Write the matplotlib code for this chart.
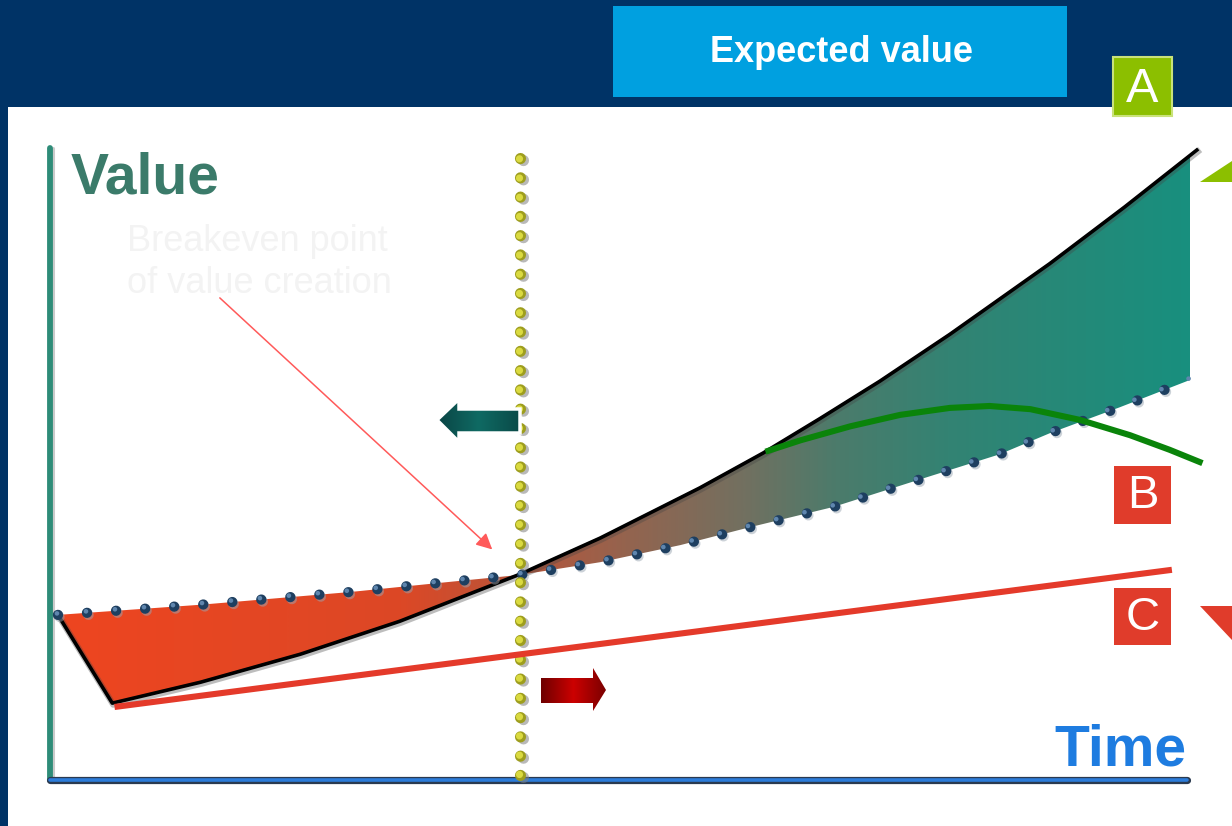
import numpy as np
import matplotlib
matplotlib.use("Agg")
import matplotlib.pyplot as plt
from matplotlib.patches import Rectangle, Polygon
from matplotlib.colors import LinearSegmentedColormap
import matplotlib.transforms as mtransforms

# ---------------- data ----------------
title = "Expected value"
x_label = "Time"
y_label = "Value"
annotation = "Breakeven point\nof value creation"
scenario_labels = ["A", "B", "C"]

# expected value path (dotted blue)
expected_t = [0.00, 1.26, 2.58, 3.46, 4.08, 4.79, 5.50, 6.11, 6.85, 7.59, 8.32, 8.76, 9.38, 10.00]
expected_v = [2.60, 2.76, 2.96, 3.12, 3.23, 3.43, 3.70, 3.98, 4.30, 4.72, 5.13, 5.46, 5.87, 6.30]

# actual value path (black) - scenario A
actual_t = [0.00, 0.48, 1.26, 2.14, 3.02, 4.08, 4.79, 5.67, 6.23, 6.73, 7.26, 7.88, 8.76, 9.42, 10.06]
actual_v = [2.60, 1.21, 1.54, 1.98, 2.50, 3.24, 3.81, 4.60, 5.15, 5.69, 6.28, 7.02, 8.13, 9.02, 9.92]

# scenario B (green)
scen_b_t = [6.25, 6.56, 7.00, 7.44, 7.88, 8.23, 8.59, 9.03, 9.47, 9.82, 10.11]
scen_b_v = [5.17, 5.35, 5.57, 5.75, 5.86, 5.89, 5.84, 5.67, 5.43, 5.20, 4.99]

# scenario C (red straight line)
scen_c_t = [0.50, 9.84]
scen_c_v = [1.15, 3.31]

# breakeven point
breakeven_t = 4.08
breakeven_v = 3.23

# ---------------- style ----------------
NAVY = "#003366"
CYAN = "#00A0E0"
GREEN_BOX = "#8CBF00"
RED_BOX = "#E03C2B"

W, H = 1232, 826
fig = plt.figure(figsize=(W / 100, H / 100), dpi=100)

# background axes (pixel coordinates)
bg = fig.add_axes([0, 0, 1, 1], zorder=0)
bg.set_xlim(0, W); bg.set_ylim(H, 0); bg.set_axis_off()
bg.add_patch(Rectangle((0, 0), W, H, color=NAVY, lw=0))
bg.add_patch(Rectangle((8, 107), W - 8, H - 107, color="white", lw=0))
bg.add_patch(Rectangle((613, 6), 454, 91, color=CYAN, lw=0))
bg.text(841, 52, title, color="white", fontsize=26, fontweight="bold",
        family="Liberation Sans", ha="center", va="center")
bg.add_patch(Rectangle((1113, 57), 59, 59, facecolor=GREEN_BOX, edgecolor="#C9E27A", lw=1.5))
bg.text(1142.5, 89, scenario_labels[0], color="white", fontsize=35,
        family="Liberation Sans", ha="center", va="center")

# chart axes (data coordinates)
ax = fig.add_axes([50 / W, 46 / H, 1140 / W, 635 / H], zorder=1)
ax.set_axis_off()
XMIN, XMAX, YMIN, YMAX = -0.07, 10.0, 0.0, 10.0

# gradient fill between actual and expected
poly_pts = list(zip(actual_t, actual_v)) + list(zip(expected_t[::-1], expected_v[::-1]))
poly = Polygon(poly_pts, closed=True, facecolor="none", edgecolor="none")
ax.add_patch(poly)
fill_cmap = LinearSegmentedColormap.from_list("fill", [
    (0.00, "#EE4520"), (0.30, "#DC4826"), (0.40, "#B8553A"), (0.50, "#93644F"),
    (0.60, "#727060"), (0.68, "#4C7B6B"), (0.78, "#338373"), (0.90, "#238A79"),
    (1.00, "#17907F")])
grad = np.linspace(0, 1, 512).reshape(1, -1)
im = ax.imshow(grad, extent=[0, 10.1, 0, 10], aspect="auto", cmap=fill_cmap,
               origin="lower", zorder=1, interpolation="bilinear")
im.set_clip_path(poly)

def shifted(dx_px, dy_px):
    return ax.transData + mtransforms.ScaledTranslation(dx_px / 100, dy_px / 100, fig.dpi_scale_trans)

# axis lines
ax.plot([0, 0], [0, 0.995], transform=ax.transAxes + mtransforms.ScaledTranslation(0.025, 0, fig.dpi_scale_trans),
        color="#A8A8A8", lw=2.2, solid_capstyle="round", clip_on=False, zorder=2, alpha=0.6)
ax.plot([0, 0], [0, 0.995], transform=ax.transAxes, color="#2E8C78", lw=4.2,
        solid_capstyle="round", clip_on=False, zorder=3)
ax.plot([0, 0.997], [0, 0], transform=ax.transAxes, color="#2A3A50", lw=5.2,
        solid_capstyle="round", clip_on=False, zorder=3)
ax.plot([0, 0.997], [0, 0], transform=ax.transAxes, color="#2C7CDA", lw=2.6,
        solid_capstyle="round", clip_on=False, zorder=4)

# actual (black) curve
ax.plot(actual_t, actual_v, transform=shifted(1, -1.5), color="#444444", lw=4.5, alpha=0.35,
        zorder=3, clip_on=False, solid_joinstyle="round")
ax.plot(actual_t, actual_v, color="black", lw=2.6, zorder=4, clip_on=False,
        solid_joinstyle="round")

# expected value dotted line (blue balls)
blue_lw = 7.4
sp_b = 20.9
ax.plot(expected_t, expected_v, transform=shifted(1.5, -2), color="#9AA6B2", lw=blue_lw, alpha=0.5,
        ls=(0, (0.01, sp_b / blue_lw)), dash_capstyle="round", zorder=5, clip_on=False)
ax.plot(expected_t, expected_v, color="#1E3F60", lw=blue_lw,
        ls=(0, (0.01, sp_b / blue_lw)), dash_capstyle="round", zorder=6, clip_on=False)
ax.plot(expected_t, expected_v, transform=shifted(-1, 1.5), color="#5F86AE", lw=3.4,
        ls=(0, (0.01, sp_b / 3.4)), dash_capstyle="round", zorder=7, clip_on=False)

# breakeven vertical dotted line (yellow balls)
yl_lw = 8.0
sp_y = 13.8
bt = [breakeven_t, breakeven_t]
bv = [0.08, 9.92]
ax.plot(bt, bv, transform=shifted(3, -2), color="#808080", lw=yl_lw, alpha=0.55,
        ls=(0, (0.01, sp_y / yl_lw)), dash_capstyle="round", zorder=8, clip_on=False)
ax.plot(bt, bv, color="#9E9E1E", lw=yl_lw,
        ls=(0, (0.01, sp_y / yl_lw)), dash_capstyle="round", zorder=9, clip_on=False)
ax.plot(bt, bv, transform=shifted(-0.5, 1.2), color="#DADA40", lw=5.2,
        ls=(0, (0.01, sp_y / 5.2)), dash_capstyle="round", zorder=10, clip_on=False)

# scenario B and C lines
ax.plot(scen_b_t, scen_b_v, color="#0A840A", lw=4.4, zorder=11, clip_on=False,
        solid_capstyle="butt", solid_joinstyle="round")
ax.plot(scen_c_t, scen_c_v, color="#E43A2A", lw=4.4, zorder=11, clip_on=False,
        solid_capstyle="butt")

# annotation arrow to breakeven
ax.annotate("", xy=(breakeven_t, breakeven_v), xycoords="data",
            xytext=(-300, 277), textcoords="offset pixels",
            arrowprops=dict(arrowstyle="-|>", color="#FF5A5A", lw=1.1,
                            mutation_scale=24, shrinkA=0, shrinkB=27),
            zorder=12)

ax.set_xlim(XMIN, XMAX)
ax.set_ylim(YMIN, YMAX)

# foreground axes (pixel coordinates) for decorations
fg = fig.add_axes([0, 0, 1, 1], zorder=2)
fg.set_axis_off()
fg.patch.set_alpha(0)

# axis titles
fg.text(71, 193, y_label, color="#3B7B6A", fontsize=41, fontweight="bold",
        family="Liberation Sans", ha="left", va="baseline")
fg.text(1054, 765, x_label, color="#1E7CE0", fontsize=41, fontweight="bold",
        family="Liberation Sans", ha="left", va="baseline")
fg.text(127, 224, annotation, color="#F3F3F3", fontsize=26, family="Liberation Sans",
        ha="left", va="top", linespacing=1.25)

def block_arrow(pts, colors, outline=None):
    p = Polygon(pts, closed=True, facecolor="none", edgecolor="none")
    fg.add_patch(p)
    xs = [q[0] for q in pts]; ys = [q[1] for q in pts]
    cm = LinearSegmentedColormap.from_list("a", colors)
    g = np.linspace(0, 1, 256).reshape(1, -1)
    img = fg.imshow(g, extent=[min(xs), max(xs), max(ys), min(ys)], aspect="auto",
                    cmap=cm, zorder=5, interpolation="bilinear")
    img.set_clip_path(p)
    if outline:
        fg.add_patch(Polygon(pts, closed=True, facecolor="none", edgecolor=outline,
                             lw=2.5, zorder=6))

# teal left arrow
block_arrow([(437, 420), (459, 399), (459, 409), (520, 409), (520, 433), (459, 433), (459, 442)],
            ["#0A4444", "#0F6A63", "#0A4A48"], outline="white")
# red right arrow
block_arrow([(541, 678), (593, 678), (593, 668), (606, 690), (593, 711), (593, 703), (541, 703)],
            ["#6E0000", "#CC0000", "#7A0000"])

# scenario label boxes
fg.add_patch(Rectangle((1114, 466), 57, 58, color=RED_BOX, lw=0, zorder=7))
fg.text(1142.5, 496, scenario_labels[1], color="white", fontsize=34,
        family="Liberation Sans", ha="center", va="center", zorder=8)
fg.add_patch(Rectangle((1114, 588), 57, 57, color=RED_BOX, lw=0, zorder=7))
fg.text(1142.5, 618, scenario_labels[2], color="white", fontsize=34,
        family="Liberation Sans", ha="center", va="center", zorder=8)

# pointer triangles at right edge
fg.add_patch(Polygon([(1200, 182), (1232, 161), (1232, 182)], closed=True,
                     color=GREEN_BOX, lw=0, zorder=7))
fg.add_patch(Polygon([(1200, 606), (1232, 606), (1232, 640)], closed=True,
                     color=RED_BOX, lw=0, zorder=7))

fg.set_xlim(0, W)
fg.set_ylim(H, 0)

fig.savefig("out.png", dpi=100)
